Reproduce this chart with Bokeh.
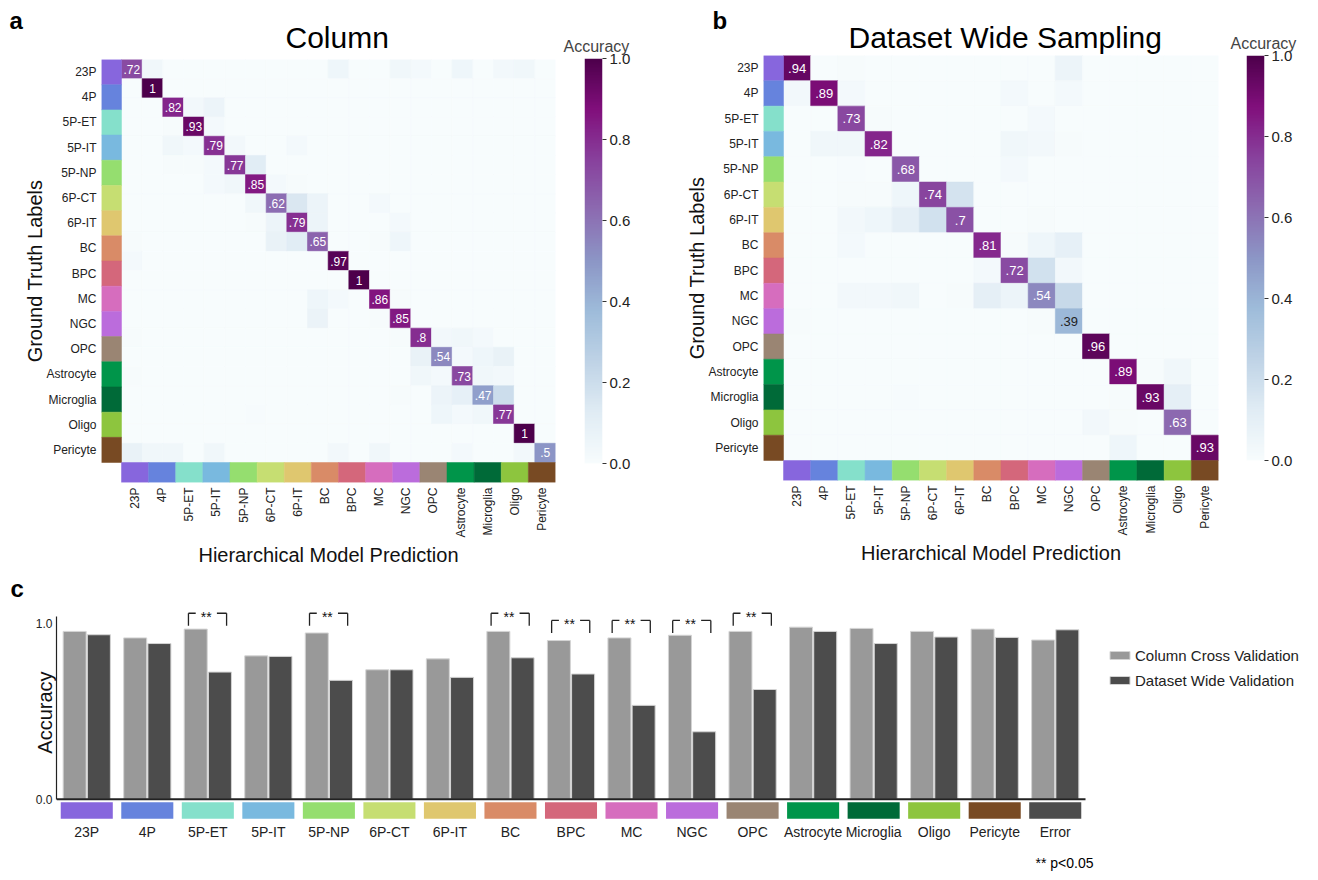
import numpy as np
from bokeh.plotting import figure
from bokeh.models import (Range1d, FixedTicker, LinearColorMapper, Title,
                          Legend, LegendItem, ColumnDataSource, NumeralTickFormatter)
from bokeh.transform import transform
from bokeh.layouts import row, column
from bokeh.embed import file_html
from bokeh.resources import INLINE
from bokeh.core.properties import value

FONT = "Liberation Sans"

# ---------------- data ----------------
classes = ["23P", "4P", "5P-ET", "5P-IT", "5P-NP", "6P-CT", "6P-IT", "BC", "BPC",
           "MC", "NGC", "OPC", "Astrocyte", "Microglia", "Oligo", "Pericyte"]
class_colors = ["#8766dd", "#6683dd", "#85e0cb", "#79b9df", "#95de6f", "#c6de72",
                "#dfc76f", "#d98b67", "#d4677b", "#d66dbe", "#bb6cdc", "#9a8573",
                "#00954a", "#006a38", "#8dc53e", "#784a23"]

# panel a: "Column" confusion matrix (21 x 21 grid drawn under 16 labels)
column_diag = [0.72, 1.0, 0.82, 0.93, 0.79, 0.77, 0.85, 0.62, 0.79, 0.65, 0.97,
               1.0, 0.86, 0.85, 0.80, 0.54, 0.73, 0.47, 0.77, 1.0, 0.50]
column_off = [(0, 1, 0.04), (0, 10, 0.05), (0, 13, 0.04), (0, 14, 0.02), (0, 16, 0.05),
              (0, 18, 0.03), (0, 19, 0.04), (2, 3, 0.03), (2, 4, 0.06), (3, 2, 0.01),
              (3, 4, 0.02), (4, 2, 0.04), (4, 3, 0.02), (4, 5, 0.03), (4, 8, 0.02),
              (5, 2, 0.01), (5, 3, 0.01), (5, 4, 0.02), (5, 6, 0.12), (6, 4, 0.02),
              (6, 5, 0.04), (6, 7, 0.02), (6, 8, 0.01), (7, 6, 0.04), (7, 8, 0.15),
              (7, 9, 0.06), (7, 12, 0.02), (8, 6, 0.01), (8, 7, 0.06), (8, 9, 0.06),
              (8, 13, 0.02), (9, 0, 0.01), (9, 7, 0.08), (9, 8, 0.12), (9, 12, 0.01),
              (9, 13, 0.05), (10, 0, 0.02), (12, 9, 0.05), (12, 10, 0.02), (12, 13, 0.01),
              (13, 9, 0.07), (13, 12, 0.01), (14, 0, 0.01), (14, 13, 0.01), (14, 15, 0.03),
              (14, 16, 0.04), (14, 17, 0.02), (15, 14, 0.08), (15, 16, 0.02), (15, 17, 0.05),
              (15, 18, 0.08), (16, 0, 0.01), (16, 14, 0.04), (16, 15, 0.02), (16, 17, 0.04),
              (16, 18, 0.03), (17, 13, 0.01), (17, 15, 0.06), (17, 16, 0.09), (17, 18, 0.20),
              (18, 6, 0.005), (18, 15, 0.05), (18, 16, 0.02), (18, 17, 0.04), (20, 0, 0.08),
              (20, 1, 0.04), (20, 2, 0.04), (20, 4, 0.04), (20, 10, 0.03), (20, 12, 0.04),
              (20, 16, 0.02), (20, 19, 0.03)]

# panel b: "Dataset Wide Sampling" confusion matrix (16 x 16)
dataset_diag = [0.94, 0.89, 0.73, 0.82, 0.68, 0.74, 0.70, 0.81, 0.72, 0.54, 0.39,
                0.96, 0.89, 0.93, 0.63, 0.93]
dataset_off = [(0, 2, 0.01), (0, 10, 0.06), (1, 0, 0.03), (1, 2, 0.02), (1, 8, 0.02),
               (1, 10, 0.02), (2, 3, 0.01), (2, 9, 0.02), (3, 1, 0.04), (3, 2, 0.04),
               (3, 8, 0.04), (3, 9, 0.03), (3, 10, 0.01), (4, 2, 0.005), (4, 8, 0.02),
               (5, 2, 0.01), (5, 3, 0.01), (5, 4, 0.05), (5, 6, 0.17), (6, 2, 0.03),
               (6, 3, 0.05), (6, 4, 0.10), (6, 5, 0.18), (6, 9, 0.01), (7, 2, 0.02),
               (7, 8, 0.01), (7, 9, 0.05), (7, 10, 0.09), (8, 7, 0.02), (8, 9, 0.18),
               (8, 10, 0.03), (9, 2, 0.03), (9, 3, 0.03), (9, 4, 0.04), (9, 6, 0.01),
               (9, 7, 0.10), (9, 8, 0.06), (9, 10, 0.22), (10, 0, 0.01), (10, 9, 0.01),
               (12, 13, 0.01), (12, 14, 0.04), (13, 4, 0.005), (13, 12, 0.01), (13, 14, 0.10),
               (14, 11, 0.03), (14, 12, 0.01), (15, 12, 0.05)]

# panel c: bar chart
bar_categories = classes + ["Error"]
bar_colors = class_colors + ["#4d4d4d"]
column_cv = [0.953, 0.916, 0.966, 0.814, 0.944, 0.735, 0.797, 0.953, 0.901,
             0.916, 0.931, 0.953, 0.977, 0.970, 0.953, 0.966, 0.904]
dataset_wide = [0.934, 0.884, 0.722, 0.811, 0.675, 0.735, 0.692, 0.803, 0.711,
                0.533, 0.383, 0.623, 0.953, 0.884, 0.921, 0.919, 0.962]
sig_categories = ["5P-ET", "5P-NP", "BC", "BPC", "MC", "NGC", "OPC"]
sig_heights = [1.056, 1.056, 1.056, 1.015, 1.015, 1.015, 1.056]
cbar_ticks = [0.0, 0.2, 0.4, 0.6, 0.8, 1.0]

# ---------------- colour map (BuPu) ----------------
bupu = ["#f7fcfd", "#e0ecf4", "#bfd3e6", "#9ebcda", "#8c96c6",
        "#8c6bb1", "#88419d", "#810f7c", "#4d004b"]
rgb = np.array([[int(c[i:i + 2], 16) for i in (1, 3, 5)] for c in bupu], float)
pos = np.linspace(0, 1, len(bupu))
palette = ["#%02x%02x%02x" % tuple(int(round(np.interp(t, pos, rgb[:, k]))) for k in range(3))
           for t in np.linspace(0, 1, 256)]
mapper = LinearColorMapper(palette=palette, low=0, high=1)


def fmt(v):
    return ("%.2f" % v).lstrip("0").rstrip("0").rstrip(".")


def style_axis(ax, size):
    ax.axis_line_color = None
    ax.major_tick_line_color = None
    ax.minor_tick_line_color = None
    ax.major_tick_out = 0
    ax.major_tick_in = 0
    ax.major_label_text_font = FONT
    ax.major_label_text_font_size = size
    ax.major_label_text_color = "#222222"
    ax.axis_label_text_font = FONT
    ax.axis_label_text_font_size = "20px"
    ax.axis_label_text_font_style = "normal"
    ax.axis_label_text_color = "#111111"


def add_title(p, text, offset, standoff, size, style, where="above"):
    p.add_layout(Title(text=text, align="left", offset=offset, standoff=standoff,
                       text_font=FONT, text_font_size=size, text_font_style=style,
                       text_color="#000000"), where)


def build_heatmap(diag, off, title, title_offset, title_standoff, width, height,
                  mbl, mbr, mbt, mbb, strip_x, strip_y, num_size, let, let_offset,
                  let_standoff):
    n = len(diag)
    M = np.zeros((n, n))
    for k, v in enumerate(diag):
        M[k, k] = v
    for r, c, v in off:
        M[r, c] = v
    size = 16.0 / n
    rr, cc = np.meshgrid(np.arange(n), np.arange(n), indexing="ij")
    src = ColumnDataSource(dict(x=((cc + 0.5) * size).ravel(),
                                y=(16 - (rr + 0.5) * size).ravel(),
                                v=M.ravel()))
    p = figure(width=width, height=height, x_range=Range1d(-strip_x, 16),
               y_range=Range1d(-strip_y, 16), output_backend="svg",
               toolbar_location=None, min_border_left=mbl, min_border_right=mbr,
               min_border_top=mbt, min_border_bottom=mbb, title=None, frame_align=False)
    p.rect(x="x", y="y", width=size, height=size, source=src,
           fill_color=transform("v", mapper), line_color=transform("v", mapper),
           line_width=0.6)
    idx = np.arange(16)
    p.quad(left=-strip_x, right=0, bottom=15 - idx, top=16 - idx,
           fill_color=class_colors, line_color=class_colors, line_width=0.5)
    p.quad(left=idx, right=idx + 1, bottom=-strip_y, top=0,
           fill_color=class_colors, line_color=class_colors, line_width=0.5)
    kk = np.arange(n)
    tsrc = ColumnDataSource(dict(x=(kk + 0.5) * size, y=16 - (kk + 0.5) * size,
                                 t=[fmt(v) for v in diag],
                                 c=["#ffffff" if v > 0.45 else "#222222" for v in diag]))
    p.text(x="x", y="y", text="t", text_color="c", source=tsrc, text_align="center",
           text_baseline="middle", text_font_size=num_size, text_font=value(FONT))

    p.xaxis.ticker = FixedTicker(ticks=[i + 0.5 for i in range(16)])
    p.xaxis.major_label_overrides = {i + 0.5: c for i, c in enumerate(classes)}
    p.xaxis.major_label_orientation = np.pi / 2
    p.yaxis.ticker = FixedTicker(ticks=[15.5 - i for i in range(16)])
    p.yaxis.major_label_overrides = {15.5 - i: c for i, c in enumerate(classes)}
    for ax in (p.xaxis[0], p.yaxis[0]):
        style_axis(ax, "12px")
        ax.major_label_standoff = 5
    p.xaxis.axis_label_standoff = 3
    p.yaxis.axis_label_standoff = -3
    p.xaxis.axis_label = "Hierarchical Model Prediction"
    p.yaxis.axis_label = "Ground Truth Labels"
    p.grid.visible = False
    p.outline_line_color = None
    add_title(p, title, title_offset, title_standoff, "30px", "normal")
    add_title(p, let, let_offset, let_standoff, "24px", "bold")
    return p


def build_cbar(width, height, mbl, mbr, mbt, mbb, title_offset):
    p = figure(width=width, height=height, x_range=Range1d(0, 1), y_range=Range1d(0, 1),
               y_axis_location="right", x_axis_location=None, output_backend="svg",
               toolbar_location=None, min_border_left=mbl, min_border_right=mbr,
               min_border_top=mbt, min_border_bottom=mbb, title="Accuracy",
               frame_align=False)
    p.image(image=[np.linspace(0, 1, 256).reshape(256, 1)], x=0, y=0, dw=1, dh=1,
            color_mapper=mapper)
    p.yaxis.ticker = FixedTicker(ticks=cbar_ticks)
    p.yaxis.formatter = NumeralTickFormatter(format="0.0")
    ax = p.yaxis[0]
    ax.axis_line_color = None
    ax.major_tick_out = 4
    ax.major_tick_in = 0
    ax.major_tick_line_color = "#333333"
    ax.minor_tick_line_color = None
    ax.major_label_standoff = 3
    ax.major_label_text_font = FONT
    ax.major_label_text_font_size = "15px"
    ax.major_label_text_color = "#222222"
    p.grid.visible = False
    p.outline_line_color = None
    p.title.align = "left"
    p.title.offset = title_offset
    p.title.standoff = 7
    p.title.text_font = FONT
    p.title.text_font_size = "16px"
    p.title.text_font_style = "normal"
    return p


TOP_H = 568
fig_a = build_heatmap(column_diag, column_off, "Column", 184, 12, 560, TOP_H, 101, 5, 59, 86,
                      0.737, 0.794, "12px", "a", -92, -42)
cb_a = build_cbar(110, TOP_H, 24, 68, 58, 105, -21)
fig_b = build_heatmap(dataset_diag, dataset_off, "Dataset Wide Sampling", 85, 4, 558, TOP_H,
                      93, 10, 55, 88, 0.736, 0.79, "13px", "b", -51, -35)
cb_b = build_cbar(82, TOP_H, 18, 46, 55, 108, -16)

# ---------------- bar chart ----------------
n_cat = len(bar_categories)
xi = np.arange(n_cat)
fig_c = figure(width=1310, height=312, x_range=Range1d(-0.5, 20.085),
               y_range=Range1d(-0.115, 1.1), output_backend="svg", toolbar_location=None,
               min_border_left=56, min_border_right=8, min_border_top=37,
               min_border_bottom=60, frame_align=False, title=None)
r1 = fig_c.vbar(x=xi - 0.2, top=column_cv, bottom=0, width=0.38, fill_color="#999999",
                line_color="#d4d4d4", line_width=1)
r2 = fig_c.vbar(x=xi + 0.2, top=dataset_wide, bottom=0, width=0.38, fill_color="#4c4c4c",
                line_color="#d4d4d4", line_width=1)
fig_c.quad(left=xi - 0.43, right=xi + 0.43, bottom=-0.111, top=-0.017,
           fill_color=bar_colors, line_color=None)
fig_c.segment(x0=[-0.5], y0=[0], x1=[n_cat - 0.5], y1=[0], line_color="#222222",
              line_width=2)

# significance brackets
sig_idx = np.array([bar_categories.index(c) for c in sig_categories], float)
sig_h = np.array(sig_heights)
leg = 0.071
x0 = np.concatenate([sig_idx - 0.32, sig_idx - 0.32, sig_idx + 0.15, sig_idx + 0.31])
x1 = np.concatenate([sig_idx - 0.32, sig_idx - 0.20, sig_idx + 0.31, sig_idx + 0.31])
y0 = np.concatenate([sig_h - leg, sig_h, sig_h, sig_h])
y1 = np.concatenate([sig_h, sig_h, sig_h, sig_h - leg])
fig_c.segment(x0=x0, y0=y0, x1=x1, y1=y1, line_color="#222222", line_width=1.3)
fig_c.text(x=sig_idx - 0.025, y=sig_h - 0.02, text=["**"] * len(sig_idx),
           text_align="center", text_baseline="middle", text_font_size="14px",
           text_font=value(FONT), text_color="#111111")

fig_c.xaxis.ticker = FixedTicker(ticks=list(range(n_cat)))
fig_c.xaxis.major_label_overrides = {i: c for i, c in enumerate(bar_categories)}
style_axis(fig_c.xaxis[0], "14px")
fig_c.xaxis.major_label_standoff = 4
fig_c.yaxis.ticker = FixedTicker(ticks=[0, 1])
fig_c.yaxis.major_label_overrides = {0: "0.0", 1: "1.0"}
style_axis(fig_c.yaxis[0], "12px")
fig_c.yaxis.axis_line_color = "#222222"
fig_c.yaxis.axis_line_width = 1.2
fig_c.yaxis.bounds = (0, 1.037)
fig_c.yaxis.major_label_standoff = 4
fig_c.yaxis.axis_label = "Accuracy"
fig_c.yaxis.axis_label_standoff = -23
fig_c.grid.visible = False
fig_c.outline_line_color = None

legend = Legend(items=[LegendItem(label="Column Cross Validation", renderers=[r1]),
                       LegendItem(label="Dataset Wide Validation", renderers=[r2])],
                location=(1051, 129), margin=0, padding=0, spacing=5,
                glyph_width=25, glyph_height=10, label_height=20, label_standoff=3,
                label_text_font=FONT, label_text_font_size="15px",
                label_text_color="#222222", border_line_color=None,
                background_fill_alpha=0)
fig_c.add_layout(legend, "center")
add_title(fig_c, "c", -46, 8, "24px", "bold")
add_title(fig_c, "** p<0.05", 979, 20, "14px", "normal", where="below")

layout = column(row(fig_a, cb_a, fig_b, cb_b), fig_c)
open("out.html", "w").write(file_html(layout, INLINE))
